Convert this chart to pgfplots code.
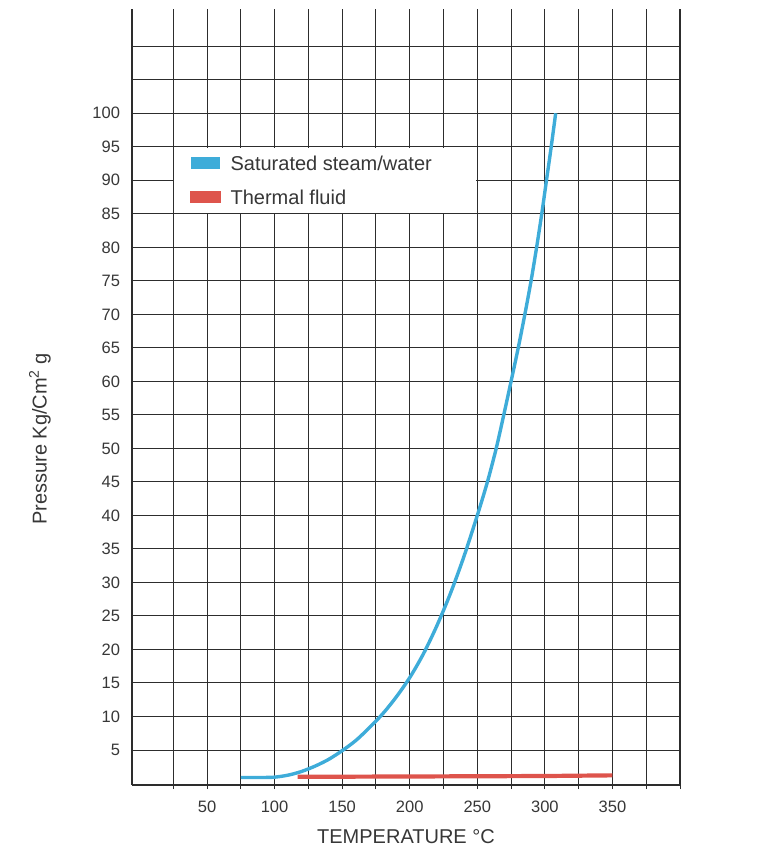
\documentclass[border=0pt]{standalone}
\usepackage{fontspec}
\setmainfont{Liberation Sans}
\usepackage{pgfplots}
\pgfplotsset{compat=1.18}
\definecolor{steam}{RGB}{62,172,217}
\definecolor{thermal}{RGB}{222,84,76}
\definecolor{gridc}{RGB}{45,45,45}
\definecolor{txt}{RGB}{55,55,55}
\begin{document}
\begin{tikzpicture}
\useasboundingbox (0,0) rectangle (766pt,847pt);
\begin{axis}[
  at={(132pt,62pt)}, anchor=south west,
  scale only axis, width=548pt, height=776pt,
  xmin=-5.5, xmax=400, ymin=-0.22, ymax=115.56,
  axis x line*=bottom, axis y line*=box,
  x axis line style={-}, y axis line style={-},
  axis line style={gridc, line width=1.4pt},
  xtick={25,50,...,400},
  xticklabels={,50,,100,,150,,200,,250,,300,,350,,},
  ytick={5,10,...,110},
  yticklabels={5,10,15,20,25,30,35,40,45,50,55,60,65,70,75,80,85,90,95,100,,},
  xtick pos=bottom,
  tick align=outside,
  major tick length=4pt,
  xtick style={gridc, line width=1pt},
  ytick style={draw=none},
  grid=major,
  major grid style={gridc, line width=1pt},
  /pgf/number format/assume math mode=true,
  ticklabel style={font=\fontsize{16.5}{18}\selectfont, text=txt},
  yticklabel style={xshift=-4.5pt},
  xticklabel style={yshift=-8pt},
  xlabel={TEMPERATURE °C},
  ylabel={Pressure Kg/Cm\textsuperscript{2} g},
  label style={font=\fontsize{20}{24}\selectfont, text=txt},
  xlabel style={at={(axis description cs:0.5,0)}, anchor=north, yshift=-41pt},
  ylabel style={at={(axis description cs:-0.168,0.446)}, anchor=center},
  legend style={at={(axis description cs:0.0752,0.8224)}, anchor=north west,
    draw=none, fill=none, font=\fontsize{20}{24}\selectfont, text=txt,
    inner xsep=17pt, inner ysep=8.85pt, row sep=19.7pt, column sep=10pt,
    nodes={inner sep=0pt, text height=14.3pt, text depth=0pt}},
  legend cell align=left,
  legend image code/.code={\fill (0pt,-4pt) rectangle (26pt,4pt);},
  reverse legend,
]
\fill[white] ([xshift=0.8pt,yshift=0.8pt]axis cs:25,85) rectangle ([xshift=-0.8pt,yshift=-0.8pt]axis cs:250,95);
\addplot[thermal, line width=4.2pt] coordinates {
  (117,1.0) (200,1.05) (300,1.12) (350,1.22)
};
\addlegendentry{Thermal fluid}
\addplot[steam, line width=3.4pt, smooth, tension=0.5] coordinates {
  (75,0.9) (90,0.9) (100,0.95) (110,1.25) (120,1.8) (130,2.6) (140,3.6)
  (150,4.9) (160,6.4) (170,8.3) (180,10.4) (190,12.9) (200,15.8)
  (210,19.3) (220,23.5) (230,28.3) (240,33.8) (250,40) (257.5,45) (264,50)
  (269.6,55) (275,60) (280.3,65) (285.2,70) (289.8,75) (293.9,80)
  (297.7,85) (301.2,90) (304.7,95) (308,100)
};
\addlegendentry{Saturated steam/water}
\end{axis}
\end{tikzpicture}
\end{document}
